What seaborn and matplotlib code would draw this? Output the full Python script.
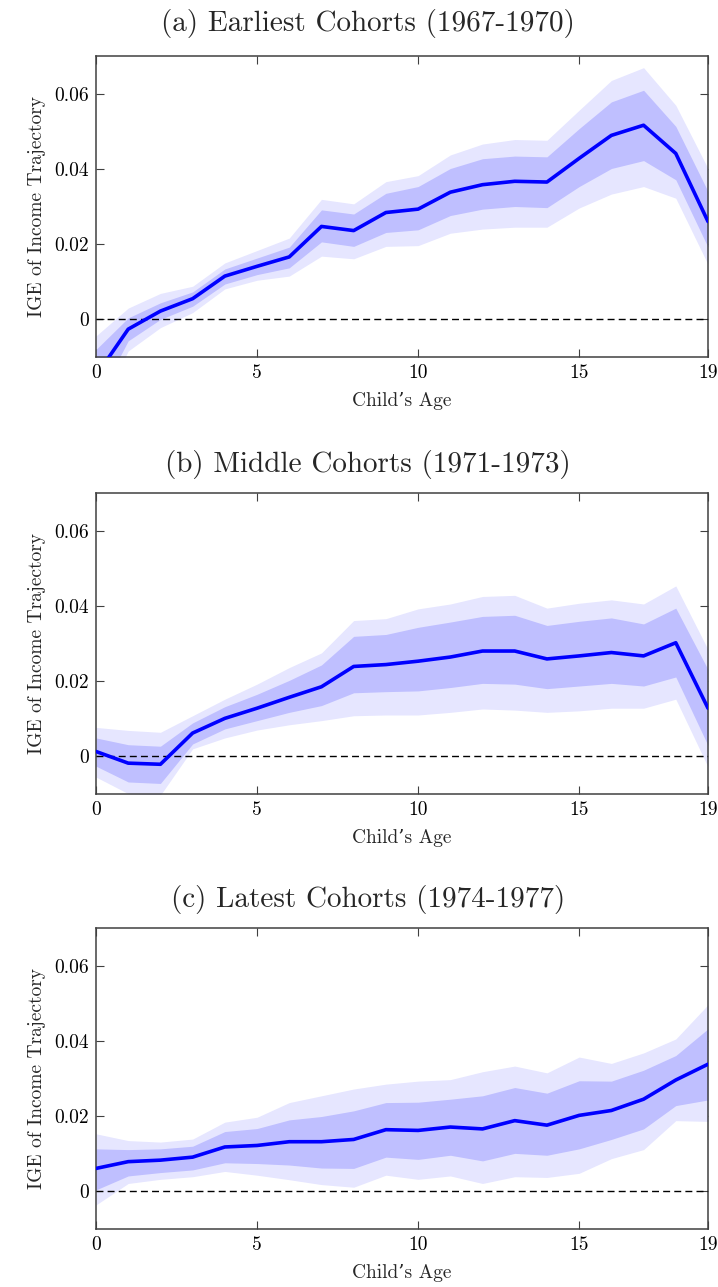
import numpy as np
import pandas as pd
import matplotlib
matplotlib.use("Agg")
import matplotlib.pyplot as plt
import seaborn as sns

ages = list(range(20))

titles = ["(a) Earliest Cohorts (1967-1970)",
          "(b) Middle Cohorts (1971-1973)",
          "(c) Latest Cohorts (1974-1977)"]

# Panel (a)
a_est = [-0.015, -0.0026, 0.0022, 0.0055, 0.0115, 0.0141, 0.0166, 0.0247, 0.0236, 0.0284,
         0.0293, 0.0338, 0.0358, 0.0367, 0.0365, 0.0428, 0.0489, 0.0516, 0.0441, 0.0260]
a_in_hi = [-0.008, 0.0004, 0.0044, 0.0073, 0.0134, 0.0163, 0.0192, 0.0291, 0.0280, 0.0335,
           0.0353, 0.0401, 0.0427, 0.0434, 0.0432, 0.0507, 0.0578, 0.0609, 0.0513, 0.0340]
a_in_lo = [-0.022, -0.0057, 0.0000, 0.0035, 0.0094, 0.0119, 0.0137, 0.0206, 0.0194, 0.0231,
           0.0238, 0.0276, 0.0293, 0.0300, 0.0297, 0.0353, 0.0401, 0.0422, 0.0371, 0.0192]
a_out_hi = [-0.0044, 0.0030, 0.0069, 0.0088, 0.0150, 0.0183, 0.0216, 0.0319, 0.0307, 0.0366,
            0.0382, 0.0437, 0.0466, 0.0478, 0.0476, 0.0556, 0.0635, 0.0669, 0.0569, 0.0401]
a_out_lo = [-0.026, -0.0084, -0.0022, 0.0018, 0.0081, 0.0104, 0.0115, 0.0168, 0.0161, 0.0194,
            0.0196, 0.0229, 0.0240, 0.0245, 0.0245, 0.0296, 0.0333, 0.0353, 0.0322, 0.0146]

# Panel (b)
b_est = [0.0013, -0.0018, -0.0021, 0.0062, 0.0101, 0.0128, 0.0157, 0.0185, 0.0239, 0.0244,
         0.0253, 0.0264, 0.0280, 0.0280, 0.0259, 0.0267, 0.0276, 0.0267, 0.0302, 0.0128]
b_in_hi = [0.0049, 0.0031, 0.0027, 0.0089, 0.0132, 0.0165, 0.0202, 0.0243, 0.0319, 0.0324,
           0.0343, 0.0357, 0.0372, 0.0375, 0.0348, 0.0359, 0.0368, 0.0352, 0.0394, 0.0231]
b_in_lo = [-0.0026, -0.0068, -0.0072, 0.0033, 0.0073, 0.0095, 0.0117, 0.0135, 0.0169, 0.0172,
           0.0174, 0.0183, 0.0194, 0.0192, 0.0180, 0.0187, 0.0194, 0.0187, 0.0211, 0.0029]
b_out_hi = [0.0077, 0.0069, 0.0064, 0.0108, 0.0152, 0.0192, 0.0236, 0.0275, 0.0361, 0.0366,
            0.0392, 0.0405, 0.0425, 0.0428, 0.0394, 0.0407, 0.0416, 0.0405, 0.0453, 0.0284]
b_out_lo = [-0.0055, -0.0099, -0.0103, 0.0020, 0.0049, 0.0070, 0.0084, 0.0095, 0.0108, 0.0110,
            0.0110, 0.0117, 0.0126, 0.0123, 0.0117, 0.0121, 0.0128, 0.0128, 0.0152, -0.0028]

# Panel (c)
c_est = [0.0061, 0.0079, 0.0083, 0.0091, 0.0118, 0.0122, 0.0132, 0.0132, 0.0138, 0.0164,
         0.0162, 0.0171, 0.0166, 0.0188, 0.0176, 0.0202, 0.0215, 0.0245, 0.0296, 0.0338]
c_in_hi = [0.0113, 0.0111, 0.0113, 0.0120, 0.0159, 0.0167, 0.0190, 0.0199, 0.0214, 0.0236,
           0.0237, 0.0245, 0.0254, 0.0276, 0.0261, 0.0294, 0.0293, 0.0322, 0.0361, 0.0432]
c_in_lo = [0.0004, 0.0041, 0.0050, 0.0057, 0.0076, 0.0074, 0.0070, 0.0062, 0.0061, 0.0091,
           0.0085, 0.0096, 0.0081, 0.0101, 0.0096, 0.0113, 0.0138, 0.0166, 0.0228, 0.0243]
c_out_hi = [0.0153, 0.0135, 0.0131, 0.0139, 0.0184, 0.0197, 0.0236, 0.0254, 0.0272, 0.0285,
            0.0293, 0.0297, 0.0318, 0.0333, 0.0315, 0.0357, 0.0340, 0.0368, 0.0405, 0.0496]
c_out_lo = [-0.0036, 0.0021, 0.0032, 0.0039, 0.0053, 0.0043, 0.0031, 0.0018, 0.0011, 0.0043,
            0.0032, 0.0041, 0.0021, 0.0039, 0.0037, 0.0048, 0.0087, 0.0111, 0.0188, 0.0186]

x_ticks = [0, 5, 10, 15, 19]
x_tick_labels = ["0", "5", "10", "15", "19"]
y_ticks = [0.0, 0.02, 0.04, 0.06]
y_tick_labels = ["0", "0.02", "0.04", "0.06"]
x_label = "Child\u2019s Age"
y_label = "IGE of Income Trajectory"

panels = [
    (a_est, a_in_lo, a_in_hi, a_out_lo, a_out_hi),
    (b_est, b_in_lo, b_in_hi, b_out_lo, b_out_hi),
    (c_est, c_in_lo, c_in_hi, c_out_lo, c_out_hi),
]

sns.set_style("ticks")
plt.rcParams["font.family"] = ["cmr10", "DejaVu Serif"]
plt.rcParams["mathtext.fontset"] = "cm"
plt.rcParams["axes.formatter.use_mathtext"] = True

fig = plt.figure(figsize=(7.18, 12.87), dpi=100)
bottoms = [1 - 357 / 1287, 1 - 794 / 1287, 1 - 1229 / 1287]
height = 301 / 1287
left, width = 96 / 718, 612 / 718
title_x = (368 - 96) / 612

line_col = "#0000FF"
inner_col = "#BFBFFF"
outer_col = "#E6E6FF"
spine_col = "#404040"

for i, (est, ilo, ihi, olo, ohi) in enumerate(panels):
    ax = fig.add_axes([left, bottoms[i], width, height])
    df = pd.DataFrame({"age": ages, "est": est})
    ax.fill_between(ages, olo, ohi, color=outer_col, linewidth=0, zorder=1)
    ax.fill_between(ages, ilo, ihi, color=inner_col, linewidth=0, zorder=2)
    ax.axhline(0, color="black", linestyle=(0, (5, 3)), linewidth=1.0, zorder=3)
    sns.lineplot(data=df, x="age", y="est", ax=ax, color=line_col, linewidth=2.6, zorder=4)
    ax.set_xlim(0, 19)
    ax.set_ylim(-0.01, 0.07)
    ax.set_xticks(x_ticks)
    ax.set_xticklabels(x_tick_labels)
    ax.set_yticks(y_ticks)
    ax.set_yticklabels(y_tick_labels)
    ax.tick_params(direction="in", top=True, right=True, length=6, width=0.8,
                   colors=spine_col, labelcolor="black", labelsize=14, pad=5)
    for s in ax.spines.values():
        s.set_color(spine_col)
        s.set_linewidth(1.1)
        s.set_visible(True)
    ax.set_xlabel(x_label, fontsize=14, labelpad=7)
    ax.set_ylabel(y_label, fontsize=14, labelpad=6)
    ax.set_title(titles[i], fontsize=21, pad=15 if i > 0 else 18, x=title_x)

fig.savefig("out.png", dpi=100)
